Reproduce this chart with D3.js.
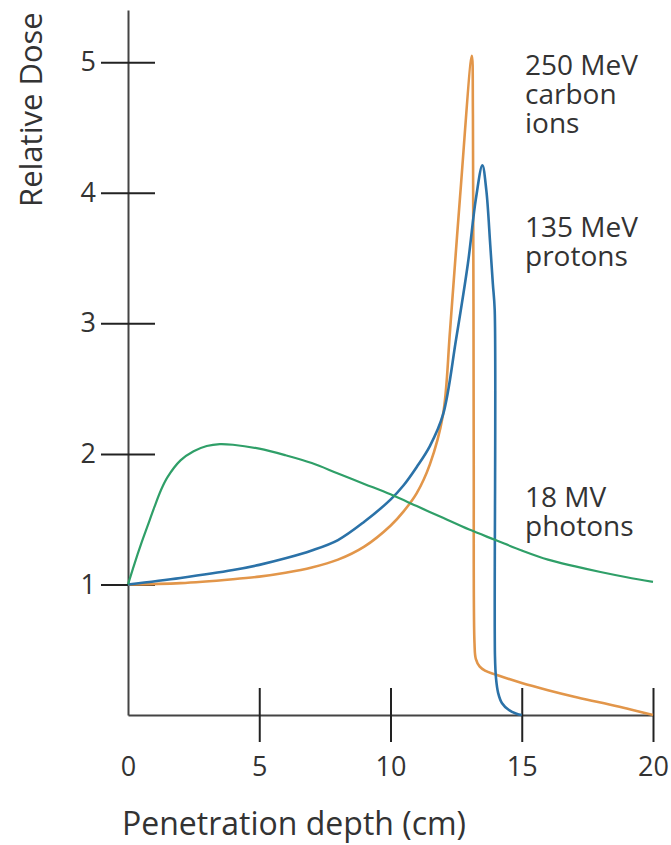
<!DOCTYPE html>
<html>
<head>
<meta charset="utf-8">
<script src="https://cdn.jsdelivr.net/npm/d3@7"></script>
<style>
  html, body { margin: 0; padding: 0; background: #fff; }
  svg { display: block; }
  text { font-family: "Open Sans", "Noto Sans", sans-serif; fill: #333; }
</style>
</head>
<body>
<svg id="chart" width="671" height="845"></svg>
<script>
// Depth (cm) and relative dose for each beam type
const photonDepth = [0, 0.25, 0.5, 0.75, 1, 1.25, 1.5, 2, 2.5, 3, 3.5, 4, 5, 6, 7, 8, 9, 10, 11, 12, 13, 14, 15, 16, 17, 18, 19, 20];
const photonDose  = [1.0, 1.16, 1.31, 1.45, 1.59, 1.72, 1.82, 1.95, 2.02, 2.06, 2.075, 2.07, 2.04, 1.99, 1.93, 1.85, 1.77, 1.69, 1.6, 1.51, 1.42, 1.34, 1.26, 1.19, 1.14, 1.095, 1.055, 1.02];

const protonDepth = [0, 2, 4, 5, 6, 7, 8, 9, 10, 10.5, 11, 11.5, 12, 12.5, 12.95, 13.25, 13.5, 13.65, 13.8, 13.9, 13.97, 13.98, 14.02, 14.1, 14.25, 14.5, 14.8, 15];
const protonDose  = [1.0, 1.05, 1.11, 1.15, 1.2, 1.26, 1.34, 1.48, 1.65, 1.76, 1.9, 2.06, 2.3, 2.88, 3.46, 3.95, 4.21, 4.02, 3.6, 3.3, 3.1, 0.45, 0.28, 0.17, 0.09, 0.04, 0.01, 0];

const carbonDepth = [0, 2, 4, 5, 6, 7, 8, 9, 10, 10.5, 11, 11.5, 12, 12.27, 12.65, 13.1, 13.14, 13.17, 13.2, 13.25, 13.4, 13.6, 14, 15, 16, 17, 18, 19, 20];
const carbonDose  = [1.0, 1.01, 1.04, 1.06, 1.09, 1.13, 1.19, 1.29, 1.45, 1.56, 1.7, 1.92, 2.3, 2.95, 3.97, 5.05, 4.6, 2.0, 0.55, 0.43, 0.37, 0.34, 0.31, 0.245, 0.19, 0.14, 0.095, 0.05, 0];

const seriesNames  = ["250 MeV carbon ions", "135 MeV protons", "18 MV photons"];
const seriesLabels = [["250 MeV", "carbon", "ions"], ["135 MeV", "protons"], ["18 MV", "photons"]];
const seriesColors = ["#e2964a", "#2b72a8", "#2f9f68"];

const xTicks = [0, 5, 10, 15, 20];
const yTicks = [1, 2, 3, 4, 5];

const svg = d3.select("#chart");

const x = d3.scaleLinear().domain([0, 20]).range([128, 653]);
const y = d3.scaleLinear().domain([0, 5.4]).range([715, 10]);

// Axes with ticks that cross the axis line
const yAxis = svg.append("g")
  .attr("transform", `translate(${x(0)},0)`)
  .call(d3.axisLeft(y).tickValues(yTicks).tickSizeInner(27).tickSizeOuter(0).tickPadding(5).tickFormat(d3.format("d")));
yAxis.select(".domain").attr("stroke", "#444").attr("stroke-width", 2);
yAxis.selectAll(".tick line").attr("x1", 27).attr("x2", -27).attr("stroke", "#222").attr("stroke-width", 2);
yAxis.selectAll(".tick text").attr("font-size", 27).attr("fill", "#333");

const xAxis = svg.append("g")
  .attr("transform", `translate(0,${y(0)})`)
  .call(d3.axisBottom(x).tickValues(xTicks).tickSizeInner(27).tickSizeOuter(0).tickPadding(15).tickFormat(d3.format("d")));
xAxis.select(".domain").attr("stroke", "#444").attr("stroke-width", 2);
xAxis.selectAll(".tick line").attr("y1", -27).attr("y2", 27).attr("stroke", "#222").attr("stroke-width", 2);
xAxis.selectAll(".tick").filter(d => d === 0).select("line").remove();
xAxis.selectAll(".tick text").attr("font-size", 27).attr("fill", "#333");

// Axis titles
svg.append("text")
  .attr("x", 122).attr("y", 835)
  .attr("font-size", 32)
  .text("Penetration depth (cm)");

svg.append("text")
  .attr("transform", "translate(42,207) rotate(-90)")
  .attr("font-size", 31)
  .text("Relative Dose");

// Dose curves
const series = [
  { name: seriesNames[0], color: seriesColors[0], width: 2.6, pts: carbonDepth.map((d, i) => [d, carbonDose[i]]) },
  { name: seriesNames[1], color: seriesColors[1], width: 2.6, pts: protonDepth.map((d, i) => [d, protonDose[i]]) },
  { name: seriesNames[2], color: seriesColors[2], width: 2.2, pts: photonDepth.map((d, i) => [d, photonDose[i]]) }
];

const line = d3.line()
  .x(d => x(d[0]))
  .y(d => y(d[1]))
  .curve(d3.curveCatmullRom.alpha(0.5));

svg.append("g").selectAll("path")
  .data(series)
  .join("path")
  .attr("fill", "none")
  .attr("stroke", d => d.color)
  .attr("stroke-width", d => d.width)
  .attr("stroke-linejoin", "round")
  .attr("d", d => line(d.pts));

// Series labels
const labelPos = [[525, 75], [525, 237], [525, 507]];
seriesLabels.forEach((lines, i) => {
  const t = svg.append("text")
    .attr("x", labelPos[i][0]).attr("y", labelPos[i][1])
    .attr("font-size", 28)
    .attr("fill", "#3a3a3a");
  lines.forEach((s, j) => {
    t.append("tspan").attr("x", labelPos[i][0]).attr("dy", j === 0 ? 0 : 29).text(s);
  });
});
</script>
</body>
</html>
